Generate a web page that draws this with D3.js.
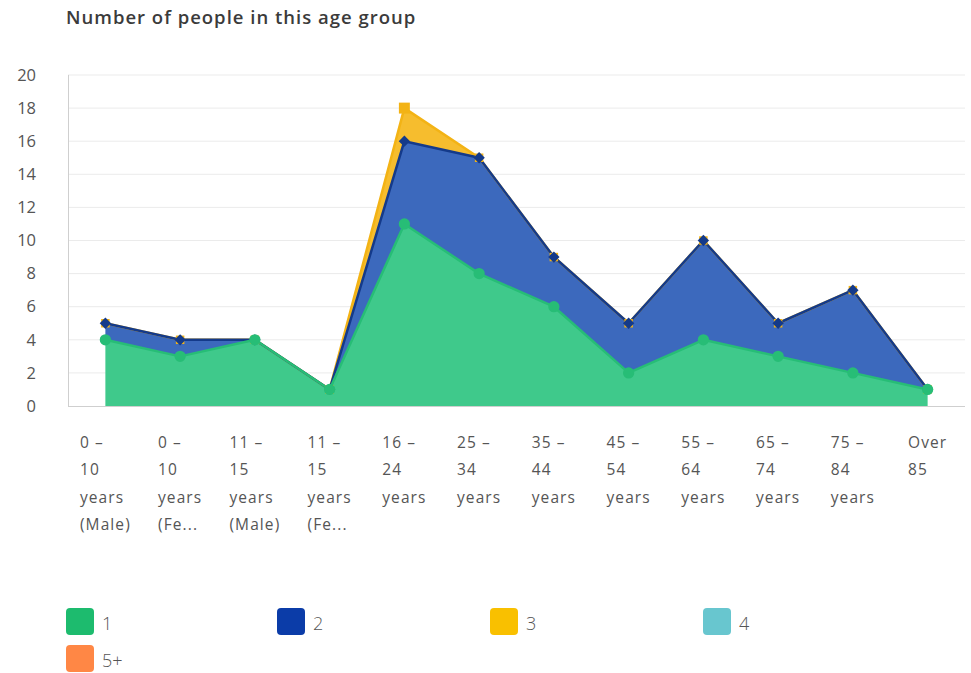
<!DOCTYPE html>
<html>
<head>
<meta charset="utf-8">
<script src="https://cdn.jsdelivr.net/npm/d3@7"></script>
<style>
  html, body { margin: 0; padding: 0; background: #fff; }
  svg { display: block; font-family: "Open Sans", "DejaVu Sans", sans-serif; }
</style>
</head>
<body>
<svg id="chart" width="971" height="673"></svg>
<script>
const title = "Number of people in this age group";
const categories = [
  ["0 –", "10", "years", "(Male)"],
  ["0 –", "10", "years", "(Fe..."],
  ["11 –", "15", "years", "(Male)"],
  ["11 –", "15", "years", "(Fe..."],
  ["16 –", "24", "years"],
  ["25 –", "34", "years"],
  ["35 –", "44", "years"],
  ["45 –", "54", "years"],
  ["55 –", "64", "years"],
  ["65 –", "74", "years"],
  ["75 –", "84", "years"],
  ["Over", "85"]
];
const seriesNames = ["1", "2", "3", "4", "5+"];
const series1 = [4, 3, 4, 1, 11, 8, 6, 2, 4, 3, 2, 1];
const series2 = [1, 1, 0, 0, 5, 7, 3, 3, 6, 2, 5, 0];
const series3 = [0, 0, 0, 0, 2, 0, 0, 0, 0, 0, 0, 0];
const series4 = [0, 0, 0, 0, 0, 0, 0, 0, 0, 0, 0, 0];
const series5 = [0, 0, 0, 0, 0, 0, 0, 0, 0, 0, 0, 0];
const yTicks = [0, 2, 4, 6, 8, 10, 12, 14, 16, 18, 20];

const allSeries = [series1, series2, series3, series4, series5];
const legendColors = ["#1dbb6e", "#0b3ca8", "#f9c000", "#68c6cf", "#ff8745"];
const areaColors = ["#3fc98b", "#3c69bd", "#f6bd2e", "#68c6cf", "#ff8745"];
const lineColors = ["#27bd76", "#143a8a", "#f3b315", "#4fb3bf", "#f07030"];
const symbols = [d3.symbolCircle, d3.symbolSquare, d3.symbolSquare, d3.symbolTriangle, d3.symbolTriangle];
const symbolSizes = [100, 64, 72, 70, 70];
const symbolRotate = [0, 45, 0, 0, 180];

const svg = d3.select("#chart");
const plotLeft = 68, plotRight = 965, plotTop = 75, plotBottom = 406;

const rows = categories.map((c, i) => {
  const r = { idx: i };
  seriesNames.forEach((k, j) => r[k] = allSeries[j][i]);
  return r;
});
const stacked = d3.stack().keys(seriesNames)(rows);

const x = d3.scalePoint().domain(d3.range(categories.length)).range([plotLeft, plotRight]).padding(0.5);
const y = d3.scaleLinear().domain([0, 20]).range([plotBottom, plotTop]);

// title
svg.append("text").attr("x", 66).attr("y", 24)
  .attr("font-size", 18.5).attr("font-weight", 600).attr("fill", "#3b3b3b")
  .attr("letter-spacing", 1.0)
  .text(title);

// gridlines
svg.append("g").selectAll("line").data(yTicks.filter(t => t > 0)).join("line")
  .attr("x1", plotLeft).attr("x2", plotRight)
  .attr("y1", d => y(d)).attr("y2", d => y(d))
  .attr("stroke", "#ebebeb").attr("stroke-width", 1);

// y axis labels
const yAxis = d3.axisLeft(y).tickValues(yTicks).tickSize(0).tickPadding(0).tickFormat(d3.format("d"));
const yg = svg.append("g").attr("transform", `translate(36,0)`).call(yAxis);
yg.select(".domain").remove();
yg.selectAll("text").attr("font-size", 16.5).attr("fill", "#555").attr("font-family", "Open Sans, sans-serif");

// axis lines
svg.append("line").attr("x1", plotLeft + 0.5).attr("x2", plotLeft + 0.5).attr("y1", plotTop).attr("y2", plotBottom)
  .attr("stroke", "#cfcfcf");
svg.append("line").attr("x1", plotLeft).attr("x2", plotRight).attr("y1", plotBottom + 0.5).attr("y2", plotBottom + 0.5)
  .attr("stroke", "#cfcfcf");

// areas
const area = d3.area().x((d, i) => x(i)).y0(d => y(d[0])).y1(d => y(d[1]));
const line = d3.line().x((d, i) => x(i)).y(d => y(d[1]));

const plot = svg.append("g");
const order = d3.range(seriesNames.length).reverse();
order.forEach(j => {
  if (d3.sum(allSeries[j]) === 0) return;
  plot.append("path").datum(stacked[j]).attr("d", area).attr("fill", areaColors[j]);
});
order.forEach(j => {
  if (d3.sum(allSeries[j]) === 0) return;
  plot.append("path").datum(stacked[j]).attr("d", line).attr("fill", "none")
    .attr("stroke", lineColors[j]).attr("stroke-width", 2.5).attr("stroke-linejoin", "round");
});
order.forEach(j => {
  if (d3.sum(allSeries[j]) === 0) return;
  plot.append("g").selectAll("path").data(stacked[j]).join("path")
    .attr("transform", (d, i) => `translate(${x(i)},${y(d[1])}) rotate(${symbolRotate[j]})`)
    .attr("d", (d, i) => d3.symbol().type(symbols[j])
      .size(j === 2 && allSeries[j][i] > 0 ? 120 : symbolSizes[j])())
    .attr("fill", lineColors[j]);
});

// x labels
const xg = svg.append("g");
categories.forEach((lines, i) => {
  const t = xg.append("text").attr("font-size", 15.5).attr("fill", "#555").attr("letter-spacing", 1.1);
  lines.forEach((ln, k) => {
    t.append("tspan").attr("x", 0).attr("y", 448 + k * 27.3).text(ln);
  });
  const bb = t.node().getBBox();
  t.attr("transform", `translate(${x(i) - bb.width / 2},0)`);
});

// legend
const legendPos = [[66, 608], [277, 608], [490, 608], [703, 608], [66, 645]];
const lg = svg.append("g");
seriesNames.forEach((name, j) => {
  const [lx, ly] = legendPos[j];
  lg.append("rect").attr("x", lx).attr("y", ly).attr("width", 28).attr("height", 27)
    .attr("rx", 4).attr("fill", legendColors[j]);
  lg.append("text").attr("x", lx + 36).attr("y", ly + 22).attr("font-size", 18)
    .attr("fill", "#555").attr("font-weight", 300).text(name);
});
</script>
</body>
</html>
